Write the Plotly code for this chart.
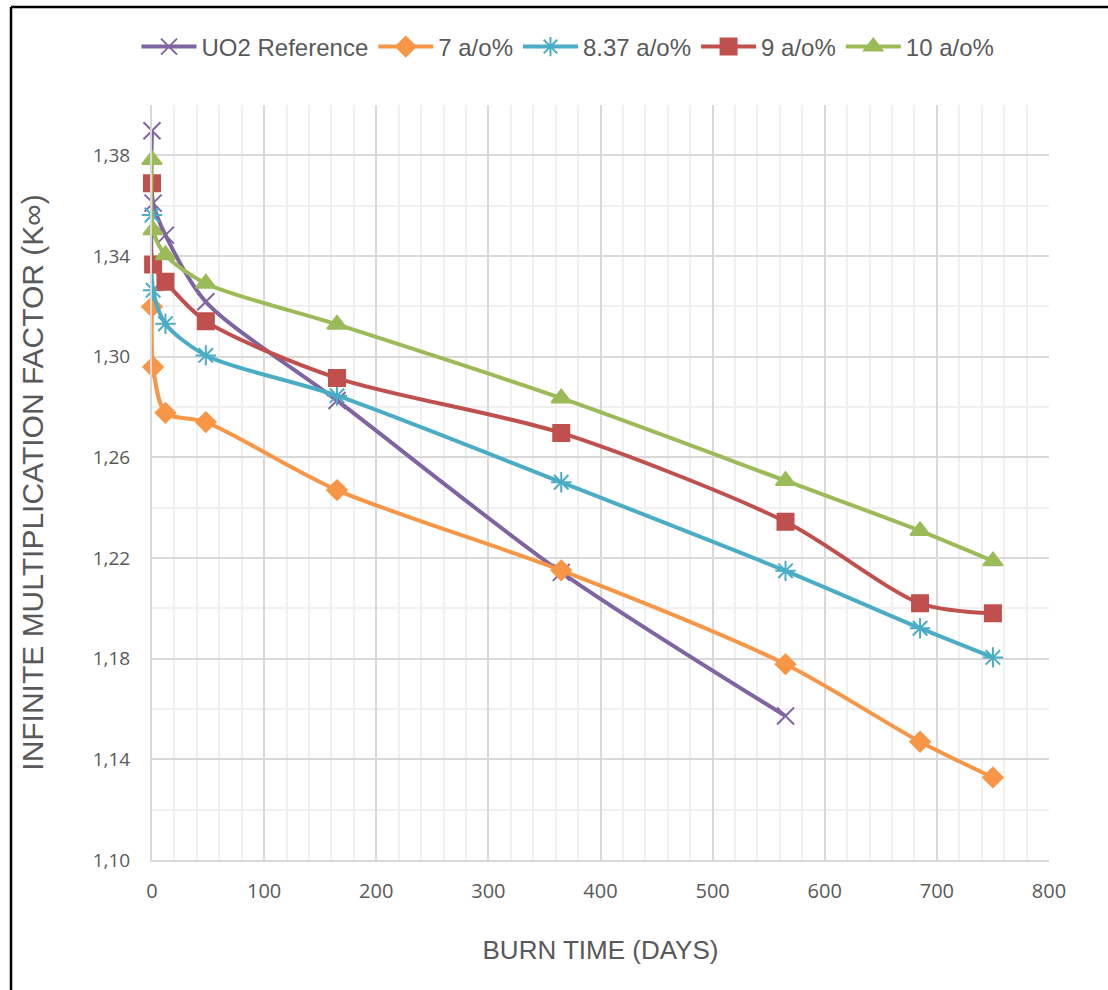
import plotly.graph_objects as go

# Burn time (days)
days_uo2 = [0, 1, 12, 48, 165, 365, 565]
days = [0, 1, 12, 48, 165, 365, 565, 685, 750]

# Infinite multiplication factor values
k_uo2 = [1.3898, 1.3610, 1.3483, 1.3218, 1.2826, 1.2143, 1.1572]
k_7 = [1.3198, 1.2959, 1.2777, 1.2740, 1.2470, 1.2151, 1.1778, 1.1470, 1.1328]
k_837 = [1.3563, 1.3264, 1.3131, 1.3005, 1.2845, 1.2501, 1.2149, 1.1921, 1.1805]
k_9 = [1.3689, 1.3366, 1.3298, 1.3141, 1.2915, 1.2697, 1.2344, 1.2020, 1.1980]
k_10 = [1.3782, 1.3503, 1.3404, 1.3291, 1.3128, 1.2835, 1.2507, 1.2308, 1.2188]

names = ["UO2 Reference", "7 a/o%", "8.37 a/o%", "9 a/o%", "10 a/o%"]
colors = ["#8064A2", "#F79646", "#4BACC6", "#C0504D", "#9BBB59"]
symbols = ["x-thin-open", "diamond", "asterisk-open", "square", "triangle-up"]
sizes = [17, 15, 17, 16, 17]

FONT = "Liberation Sans, Arial, sans-serif"
TICKF = "Open Sans, Liberation Sans, sans-serif"
GREY = "#595959"

fig = go.Figure()
series = [(days_uo2, k_uo2), (days, k_7), (days, k_837), (days, k_9), (days, k_10)]
for (x, y), n, c, s, sz in zip(series, names, colors, symbols, sizes):
    fig.add_trace(go.Scatter(
        x=x, y=y, name=n, mode="lines+markers", cliponaxis=False,
        line=dict(color=c, width=4, shape="spline", smoothing=0.8),
        marker=dict(symbol=s, size=sz, color=c, line=dict(color=c, width=2)),
    ))

W, H = 1108, 990
L, R, T, B = 152, 1049, 105, 860

def px_x(p):
    return (p - L) / (R - L)

def px_y(p):
    return (B - p) / (B - T)

fig.update_layout(
    width=W, height=H,
    margin=dict(l=L, r=W - R, t=T, b=H - B),
    paper_bgcolor="white", plot_bgcolor="white",
    separators=", ",
    showlegend=True,
    legend=dict(orientation="h", x=px_x(568), y=px_y(47), xanchor="center", yanchor="middle",
                font=dict(family=FONT, size=24, color=GREY), itemwidth=55,
                tracegroupgap=0),
    xaxis=dict(range=[0, 800], dtick=100, tick0=0, showgrid=True, gridcolor="#D9D9D9", gridwidth=1.5,
               minor=dict(dtick=20, tick0=0, showgrid=True, gridcolor="#F0F0F0", gridwidth=1.5),
               showline=True, linecolor="#D9D9D9", linewidth=2, zeroline=False,
               ticks="", ticklabelstandoff=12,
               tickfont=dict(family=TICKF, size=20, color=GREY),
               title=dict(text="BURN TIME (DAYS)", font=dict(family=FONT, size=26, color=GREY),
                          standoff=38)),
    yaxis=dict(range=[1.10, 1.40], dtick=0.04, tick0=1.10, tickformat=".2f",
               showgrid=True, gridcolor="#D9D9D9", gridwidth=1.5,
               minor=dict(dtick=0.02, tick0=1.10, showgrid=True, gridcolor="#F0F0F0", gridwidth=1.5),
               showline=True, linecolor="#D9D9D9", linewidth=2, zeroline=False,
               ticks="", ticklabelstandoff=16,
               tickfont=dict(family=TICKF, size=19, color=GREY),
               title=dict(text="INFINITE MULTIPLICATION FACTOR (K∞)",
                          font=dict(family=FONT, size=30, color=GREY), standoff=40)),
    shapes=[
        dict(type="line", xref="paper", yref="paper", x0=px_x(11), x1=px_x(1120), y0=px_y(7), y1=px_y(7),
             line=dict(color="black", width=2.5)),
        dict(type="line", xref="paper", yref="paper", x0=px_x(11), x1=px_x(11), y0=px_y(7), y1=px_y(1000),
             line=dict(color="black", width=2.5)),
    ],
)

fig.write_html("out.html", config={"displayModeBar": False},
               post_script="document.body.style.margin='0';document.body.style.overflow='hidden';")
